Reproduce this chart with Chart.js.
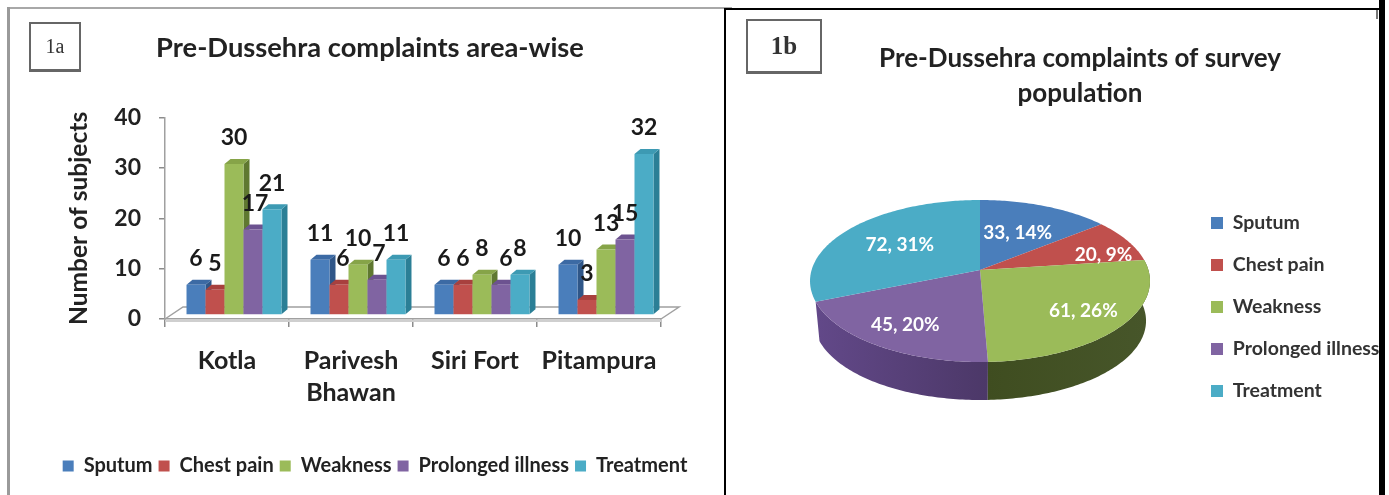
<!DOCTYPE html>
<html>
<head>
<meta charset="utf-8">
<title>Pre-Dussehra complaints</title>
<script src="https://cdn.jsdelivr.net/npm/chart.js@4"></script>
<style>
  html, body { margin: 0; padding: 0; background: #fff; width: 1389px; height: 495px; overflow: hidden; font-family: Lato, sans-serif; }
  .rule { position: absolute; }
  canvas { position: absolute; top: 0; }
  #areaChart { left: 0; }
  #surveyChart { left: 724px; }
  .tag { position: absolute; box-sizing: border-box; border: 2px solid #666; border-bottom-width: 3px; display: flex; align-items: center; justify-content: center; color: #333; font-family: "Liberation Serif", serif; }
</style>
</head>
<body>
<div class="rule" style="left:7px;top:7px;width:725px;height:2px;background:#a8a8a8"></div>
<div class="rule" style="left:7px;top:7px;width:3px;height:488px;background:#9a9a9a"></div>
<div class="rule" style="left:724px;top:8px;width:655px;height:2px;background:#000"></div>
<div class="rule" style="left:724px;top:8px;width:2px;height:487px;background:#000"></div>
<div class="rule" style="left:1376px;top:10px;width:2px;height:9px;background:#777"></div>
<canvas id="areaChart" width="724" height="495"></canvas>
<canvas id="surveyChart" width="660" height="495"></canvas>
<div class="rule" style="left:1379px;top:0;width:6px;height:495px;background:#000"></div>
<div class="tag" style="left:29px;top:22px;width:52px;height:50px;font-size:20px">1a</div>
<div class="tag" style="left:746px;top:19px;width:76px;height:55px;font-size:25px;font-weight:bold">1b</div>
<script>
// Complaint counts per survey area
const categories = ['Kotla', ['Parivesh', 'Bhawan'], 'Siri Fort', 'Pitampura'];
const sputum = [6, 11, 6, 10];
const chestPain = [5, 6, 6, 3];
const weakness = [30, 10, 8, 13];
const prolongedIllness = [17, 7, 6, 15];
const treatment = [21, 11, 8, 32];

// Whole-survey totals and their printed shares
const complaintNames = ['Sputum', 'Chest pain', 'Weakness', 'Prolonged illness', 'Treatment'];
const surveyTotals = [33, 20, 61, 45, 72];
const surveyShares = [14, 9, 26, 20, 31];

// Series colours: front face, top cap, right side
const faceColors = ['#4a7ebb', '#c0504d', '#9bbb59', '#8064a2', '#4bacc6'];
const capColors = ['#3c6aa4', '#a8403e', '#86a448', '#6c5290', '#3d9ab3'];
const sideColors = ['#2f5688', '#7f2f2d', '#5f7830', '#4d3a6c', '#2b7f96'];

const labelFont = 'Lato, sans-serif';
const seriesValues = [sputum, chestPain, weakness, prolongedIllness, treatment];

// Sideways nudges that keep crowded value labels apart: [series, category, px]
const labelNudges = [[3, 0, 2], [1, 1, 4], [3, 1, 2], [3, 2, 5]];

// Oblique depth of each bar and of the floor
const barDepth = { x: 6, y: -5 };
const planeShift = { x: 7, y: -4 };
const floorDepth = { x: 18, y: -12 };

const bars3d = {
  id: 'bars3d',
  afterLayout(chart) {
    chart.titleBlock.left = 20;
    chart.titleBlock.right = 720;
    const lg = chart.legend;
    const w = lg.right - lg.left, h = lg.bottom - lg.top;
    lg.left = 375 - w / 2;
    lg.right = lg.left + w;
    lg.top = 468 - h / 2;
    lg.bottom = lg.top + h;
  },
  beforeDatasetDraw() { return false; },
  beforeDatasetsDraw(chart) {
    const { ctx, chartArea: a } = chart;
    // Floor of the plot, lying behind the front axis line
    ctx.save();
    ctx.strokeStyle = '#a0a0a0';
    ctx.lineWidth = 1.5;
    ctx.beginPath();
    ctx.moveTo(a.left, a.bottom);
    ctx.lineTo(a.left + floorDepth.x, a.bottom + floorDepth.y);
    ctx.lineTo(a.right + floorDepth.x, a.bottom + floorDepth.y);
    ctx.lineTo(a.right, a.bottom);
    ctx.stroke();
    ctx.fillStyle = '#cfcfcf';
    ctx.fillRect(a.left, a.bottom + 1, a.right - a.left, 2);
    ctx.restore();

    ctx.save();
    ctx.translate(planeShift.x, planeShift.y);
    for (let c = 0; c < categories.length; c++) {
      chart.data.datasets.forEach((ds, s) => {
        const el = chart.getDatasetMeta(s).data[c];
        const l = el.x - el.width / 2, r = el.x + el.width / 2;
        const dx = barDepth.x, dy = barDepth.y;
        ctx.fillStyle = sideColors[s];
        ctx.beginPath();
        ctx.moveTo(r, el.y);
        ctx.lineTo(r + dx, el.y + dy);
        ctx.lineTo(r + dx, el.base + dy);
        ctx.lineTo(r, el.base);
        ctx.closePath();
        ctx.fill();
        ctx.fillStyle = capColors[s];
        ctx.beginPath();
        ctx.moveTo(l, el.y);
        ctx.lineTo(l + dx, el.y + dy);
        ctx.lineTo(r + dx, el.y + dy);
        ctx.lineTo(r, el.y);
        ctx.closePath();
        ctx.fill();
        el.draw(ctx);
      });
    }
    ctx.restore();
  },
  afterDatasetsDraw(chart) {
    const { ctx } = chart;
    ctx.save();
    ctx.fillStyle = '#1a1a1a';
    ctx.font = 'bold 23px ' + labelFont;
    ctx.textAlign = 'center';
    ctx.textBaseline = 'middle';
    chart.data.datasets.forEach((ds, s) => {
      chart.getDatasetMeta(s).data.forEach((el, c) => {
        const nudge = labelNudges.find(n => n[0] === s && n[1] === c);
        const x = el.x + planeShift.x + (nudge ? nudge[2] : 0);
        const y = el.y + planeShift.y + barDepth.y - 21;
        ctx.fillText(String(ds.data[c]), x, y);
      });
    });
    ctx.restore();
  }
};

new Chart(document.getElementById('areaChart'), {
  type: 'bar',
  data: {
    labels: categories,
    datasets: complaintNames.map((name, i) => ({
      label: name,
      data: seriesValues[i],
      backgroundColor: faceColors[i],
      borderWidth: 0,
      barPercentage: 1,
      categoryPercentage: 0.766
    }))
  },
  plugins: [bars3d],
  options: {
    responsive: false,
    animation: false,
    layout: { padding: { left: 0, right: 63, top: 0, bottom: 12 } },
    plugins: {
      tooltip: { enabled: false },
      title: {
        display: true,
        text: 'Pre-Dussehra complaints area-wise',
        color: '#222',
        font: { family: labelFont, size: 27.3, weight: 'bold', lineHeight: 1.2 },
        padding: { top: 32, bottom: 53 }
      },
      legend: {
        position: 'bottom',
        labels: {
          boxWidth: 11, boxHeight: 11, padding: 6,
          color: '#222',
          font: { family: labelFont, size: 20, weight: 'bold' }
        }
      }
    },
    scales: {
      x: {
        grid: { drawOnChartArea: false, color: '#8c8c8c', tickLength: 8, lineWidth: 1.5 },
        border: { color: '#a0a0a0', width: 1.5 },
        ticks: {
          color: '#222', padding: 18,
          maxRotation: 0, autoSkip: false,
          font: { family: labelFont, size: 25, weight: 'bold', lineHeight: 1.28 }
        },
        afterFit(scale) { scale.height = 128; }
      },
      y: {
        min: 0, max: 40,
        grid: { drawOnChartArea: false, color: '#8c8c8c', tickLength: 6, lineWidth: 1.5 },
        border: { color: '#a0a0a0', width: 1.5 },
        ticks: {
          stepSize: 10, color: '#222', padding: 18,
          font: { family: labelFont, size: 23, weight: 'bold' }
        },
        title: {
          display: true,
          text: 'Number of subjects',
          color: '#222',
          padding: { top: 64, bottom: 0 },
          font: { family: labelFont, size: 24.5, weight: 'bold', lineHeight: 1.2 }
        },
        afterFit(scale) { scale.width = 165; }
      }
    }
  }
});

// Perspective disc: where a point of the pie top lands on the canvas
const disc = { cx: 256, cy: 270, a: 168.4, b: 79.5, k: 0.1358, depth: 38, vanishY: 2000 };
function onDisc(theta, r) {
  const u = Math.sin(theta) * r, v = -Math.cos(theta) * r;
  const d = 1 - disc.k * v;
  return { x: disc.cx + disc.a * u / d, y: disc.cy + disc.b * v / d };
}
function underDisc(p) {
  const s = (disc.vanishY - (362 + disc.depth)) / (disc.vanishY - 362);
  return { x: disc.cx + (p.x - disc.cx) * s, y: disc.vanishY - (disc.vanishY - p.y) * s };
}

// Where each printed share sits along its slice: radius fraction and extra turn in degrees
const shareRadius = [0.55, 0.78, 0.75, 0.75, 0.6];
const shareTurn = [0, 8, 0, 0, 0];

const pie3d = {
  id: 'pie3d',
  afterLayout(chart) {
    const lg = chart.legend;
    const w = lg.right - lg.left, h = lg.bottom - lg.top;
    lg.left = 487 - lg.options.labels.padding;
    lg.right = lg.left + w;
    lg.top = 307 - h / 2;
    lg.bottom = lg.top + h;
    chart.titleBlock.left = 6;
    chart.titleBlock.right = 706;
  },
  beforeDatasetDraw() { return false; },
  beforeDatasetsDraw(chart) {
    const { ctx } = chart;
    const arcs = chart.getDatasetMeta(0).data;
    const turn = Math.PI / 2;
    const trace = (from, to, each) => {
      const n = Math.max(2, Math.ceil((to - from) * 60));
      for (let i = 0; i <= n; i++) each(from + (to - from) * i / n);
    };
    // Rim walls of the two front slices; the top faces go over them
    const walls = { 2: ['#3d4a1e', '#3f4d20', '#47562a'], 3: ['#63498a', '#4c3868', '#4c3868'] };
    [3, 2].forEach(i => {
      const upper = [];
      trace(arcs[i].startAngle + turn, arcs[i].endAngle + turn, t => upper.push(onDisc(t, 1)));
      const lower = upper.map(underDisc).reverse();
      const grad = ctx.createLinearGradient(disc.cx - 170, 0, disc.cx + 170, 0);
      grad.addColorStop(0, walls[i][0]);
      grad.addColorStop(0.52, walls[i][1]);
      grad.addColorStop(1, walls[i][2]);
      ctx.fillStyle = grad;
      ctx.beginPath();
      upper.concat(lower).forEach((p, k) => k ? ctx.lineTo(p.x, p.y) : ctx.moveTo(p.x, p.y));
      ctx.closePath();
      ctx.fill();
    });
    arcs.forEach((arc, i) => {
      ctx.fillStyle = faceColors[i];
      ctx.beginPath();
      ctx.moveTo(disc.cx, disc.cy);
      trace(arc.startAngle + turn, arc.endAngle + turn, t => {
        const p = onDisc(t, 1);
        ctx.lineTo(p.x, p.y);
      });
      ctx.closePath();
      ctx.fill();
    });
    ctx.fillStyle = '#fff';
    ctx.font = 'bold 19px ' + labelFont;
    ctx.textAlign = 'center';
    ctx.textBaseline = 'middle';
    arcs.forEach((arc, i) => {
      const mid = (arc.startAngle + arc.endAngle) / 2 + turn + shareTurn[i] * Math.PI / 180;
      const p = onDisc(mid, shareRadius[i]);
      ctx.fillText(surveyTotals[i] + ', ' + surveyShares[i] + '%', p.x, p.y);
    });
  }
};

new Chart(document.getElementById('surveyChart'), {
  type: 'pie',
  data: {
    labels: complaintNames,
    datasets: [{ data: surveyTotals, backgroundColor: faceColors, borderWidth: 0 }]
  },
  plugins: [pie3d],
  options: {
    responsive: false,
    animation: false,
    plugins: {
      tooltip: { enabled: false },
      title: {
        display: true,
        text: ['Pre-Dussehra complaints of survey', 'population'],
        color: '#222',
        font: { family: labelFont, size: 26, weight: 'bold', lineHeight: 1.35 },
        padding: { top: 41, bottom: 10 }
      },
      legend: {
        position: 'right',
        labels: {
          boxWidth: 12, boxHeight: 12, padding: 22.5,
          color: '#333',
          font: { family: labelFont, size: 19.5, weight: 'bold' }
        }
      }
    }
  }
});
</script>
</body>
</html>
